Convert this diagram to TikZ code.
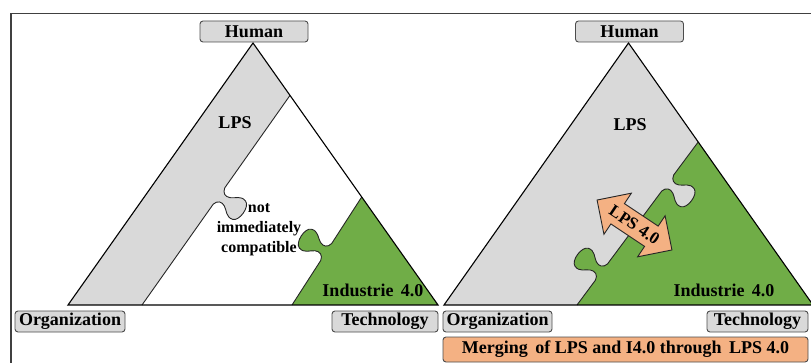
\documentclass[tikz,border=0pt]{standalone}
\usepackage{fontspec}
\setmainfont{Liberation Serif}
\usetikzlibrary{shapes.arrows}

\definecolor{lpsgray}{HTML}{D9D9D9}
\definecolor{igreen}{HTML}{70AD47}
\definecolor{lpsorange}{HTML}{F4B183}

% Jigsaw tab: #1 name prefix, #2 base centre, #3 unit vector along the seam,
% #4 unit vector pointing to the side the tab sticks out on (canvas units).
\newcommand{\jigtab}[4]{%
  \begin{scope}[shift={#2}, x={#3}, y={#4}, scale=1.12]
    \coordinate (#1-a)   at (-9,0);
    \coordinate (#1-c1)  at (-4,1);
    \coordinate (#1-c2)  at (-2.5,5);
    \coordinate (#1-b)   at (-4.5,9);
    \coordinate (#1-c3)  at (-6.5,13);
    \coordinate (#1-c4)  at (-12,16);
    \coordinate (#1-p)   at (-10,22);
    \coordinate (#1-c5)  at (-8,28);
    \coordinate (#1-c6)  at (8,28);
    \coordinate (#1-q)   at (10,22);
    \coordinate (#1-c7)  at (12,16);
    \coordinate (#1-c8)  at (6.5,13);
    \coordinate (#1-d)   at (4.5,9);
    \coordinate (#1-c9)  at (2.5,5);
    \coordinate (#1-c10) at (4,1);
    \coordinate (#1-e)   at (9,0);
  \end{scope}}

\newcommand{\tabpath}[1]{(#1-a) .. controls (#1-c1) and (#1-c2) .. (#1-b)
  .. controls (#1-c3) and (#1-c4) .. (#1-p)
  .. controls (#1-c5) and (#1-c6) .. (#1-q)
  .. controls (#1-c7) and (#1-c8) .. (#1-d)
  .. controls (#1-c9) and (#1-c10) .. (#1-e)}

\tikzset{
  tri/.style={draw=black, line width=1.1pt, line join=miter},
  seam/.style={draw=black!85, line width=0.9pt},
  frameline/.style={draw=black!75, line width=1.8pt},
  bigfont/.style={font=\bfseries\fontsize{18}{20}\selectfont},
  cornerbox/.style={bigfont, draw=black!70, fill=lpsgray, rounded corners=3pt,
    line width=0.9pt, minimum height=21pt, inner sep=0pt},
  word/.style={bigfont, inner sep=0pt},
  smallword/.style={font=\bfseries\fontsize{16}{20}\selectfont, align=center, inner sep=0pt},
  mergebox/.style={bigfont, draw=black!70, fill=lpsorange, rounded corners=3pt,
    line width=0.9pt, minimum width=365pt, minimum height=25pt, inner sep=0pt},
  linkarrow/.style={double arrow, draw=black!85, fill=lpsorange, line width=0.9pt,
    font=\bfseries\fontsize{17}{19}\selectfont, minimum height=90pt,
    double arrow head extend=12.5pt, inner xsep=1pt, inner ysep=6pt}
}

\begin{document}
\begin{tikzpicture}[x=1pt, y=-1pt]
  \useasboundingbox (0,0) rectangle (811,363);

  % outer frame
  \coordinate (fA) at (11,370);
  \coordinate (fB) at (11,13.5);
  \coordinate (fC) at (820,13.5);
  \draw[frameline] (fA) -- (fB) -- (fC);

  % ---------- left triangle: LPS and Industrie 4.0 apart ----------
  \coordinate (LH) at (253,43);
  \coordinate (LO) at (68,305);
  \coordinate (LT) at (438,305);
  \coordinate (b1) at (290,95.4);
  \coordinate (b2) at (142,305);
  \coordinate (g1) at (361.7,197);
  \coordinate (g2) at (292,305);
  \jigtab{t1}{(219,196)}{(-0.5768pt,-0.8168pt)}{(0.8168pt,-0.5768pt)}
  \jigtab{t2}{(326.2,252)}{(-0.5424pt,-0.8405pt)}{(-0.8405pt,0.5424pt)}

  \fill[lpsgray] (LH) -- (b1) -- \tabpath{t1} -- (b2) -- (LO) -- cycle;
  \draw[seam] (b1) -- \tabpath{t1} -- (b2);
  \fill[igreen] (g1) -- \tabpath{t2} -- (g2) -- (LT) -- cycle;
  \draw[seam] (g1) -- \tabpath{t2} -- (g2);
  \draw[tri] (LH) -- (LO) -- (LT) -- cycle;

  \node[word] (lpsL) at (235,123) {LPS};
  \node[smallword] (nic) at (259,230) {not\\immediately\\compatible};
  \node[word] (i40L) at (373,290) {Industrie\, 4.0};

  \node[cornerbox, minimum width=108pt] (humL) at (254,31.5) {Human};
  \node[cornerbox, minimum width=110pt] (orgL) at (70,321.5) {Organization};
  \node[cornerbox, minimum width=106pt] (tecL) at (385,321.5) {Technology};

  % ---------- right triangle: LPS and Industrie 4.0 merged ----------
  \coordinate (RH) at (628.5,43);
  \coordinate (RO) at (444,305);
  \coordinate (RT) at (813,305);
  \coordinate (r1) at (698.2,142);
  \coordinate (r2) at (577,305);
  \jigtab{t3}{(667.7,183)}{(-0.5967pt,-0.8026pt)}{(0.8026pt,-0.5967pt)}
  \jigtab{t4}{(601.5,272)}{(-0.5967pt,-0.8026pt)}{(-0.8026pt,0.5967pt)}

  \fill[lpsgray] (RH) -- (RO) -- (RT) -- cycle;
  \fill[igreen] (r1) -- \tabpath{t3} -- \tabpath{t4} -- (r2) -- (RT) -- cycle;
  \draw[seam] (r1) -- \tabpath{t3} -- \tabpath{t4} -- (r2);
  \draw[tri] (RH) -- (RO) -- (RT) -- cycle;

  \node[word] (lpsR) at (630,125) {LPS};
  \node[word] (i40R) at (724,290) {Industrie\, 4.0};
  \node[linkarrow, rotate=-33.7] (lps40) at (634.5,225) {LPS 4.0};

  \node[cornerbox, minimum width=108pt] (humR) at (629.5,31.5) {Human};
  \node[cornerbox, minimum width=109pt] (orgR) at (497.5,321.5) {Organization};
  \node[cornerbox, minimum width=101pt] (tecR) at (757.5,321.5) {Technology};

  \node[mergebox] (merge) at (625.5,349.5) {Merging\, of LPS and I4.0 through\, LPS 4.0};
\end{tikzpicture}
\end{document}
